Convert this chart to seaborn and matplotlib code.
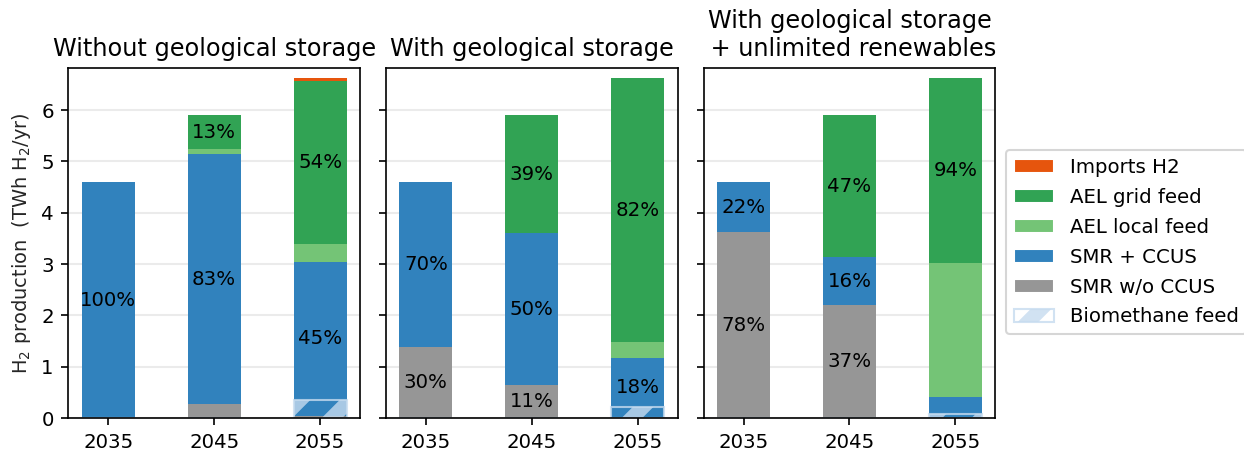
import numpy as np
import matplotlib.pyplot as plt
from matplotlib.patches import Patch
import seaborn as sns

years = ['2035', '2045', '2055']
series = ['SMR w/o CCUS', 'SMR + CCUS', 'AEL local feed', 'AEL grid feed', 'Imports H2']
titles = ['Without geological storage', 'With geological storage',
          'With geological storage\n + unlimited renewables']

# TWh H2/yr per year, one row per year, columns follow `series`
no_storage = [[0.00, 4.60, 0.00, 0.00, 0.00],
              [0.27, 4.88, 0.09, 0.66, 0.00],
              [0.05, 3.00, 0.35, 3.16, 0.06]]
with_storage = [[1.38, 3.22, 0.00, 0.00, 0.00],
                [0.64, 2.96, 0.00, 2.30, 0.00],
                [0.00, 1.18, 0.30, 5.14, 0.00]]
unlimited_ren = [[3.62, 0.98, 0.00, 0.00, 0.00],
                 [2.20, 0.94, 0.00, 2.76, 0.00],
                 [0.00, 0.41, 2.62, 3.59, 0.00]]

# biomethane-fed part of SMR production
bio_no_storage = [0.00, 0.00, 0.35]
bio_with_storage = [0.00, 0.00, 0.21]
bio_unlimited_ren = [0.00, 0.00, 0.08]

labels_no_storage = [['', '100%', '', '', ''],
                     ['', '83%', '', '13%', ''],
                     ['', '45%', '', '54%', '']]
labels_with_storage = [['30%', '70%', '', '', ''],
                       ['11%', '50%', '', '39%', ''],
                       ['', '18%', '', '82%', '']]
labels_unlimited_ren = [['78%', '22%', '', '', ''],
                        ['37%', '16%', '', '47%', ''],
                        ['', '', '', '94%', '']]

sns.set_style('ticks')
plt.rcParams['font.family'] = ['DejaVu Sans']
plt.rcParams['hatch.linewidth'] = 7
plt.rcParams['text.color'] = 'black'
plt.rcParams['axes.edgecolor'] = 'black'
plt.rcParams['xtick.color'] = 'black'
plt.rcParams['ytick.color'] = 'black'

pal = sns.color_palette('tab20c')
colors = {'SMR w/o CCUS': pal[17], 'SMR + CCUS': pal[0], 'AEL local feed': pal[9],
          'AEL grid feed': pal[8], 'Imports H2': pal[4]}
bio_color = pal[3]


def plot_panel(ax, values, bio, labels, title):
    vals = np.array(values)
    tops = np.cumsum(vals, axis=1)
    # draw cumulative totals from the top layer down so each layer covers the one above
    for j in range(len(series) - 1, -1, -1):
        sns.barplot(x=years, y=tops[:, j], color=colors[series[j]], width=0.5,
                    saturation=1, linewidth=0, ax=ax)
    ax.bar(np.arange(len(years)), bio, width=0.5, facecolor='none',
           edgecolor=bio_color, hatch='/', linewidth=1, alpha=0.8)
    for i in range(len(years)):
        for j in range(len(series)):
            if labels[i][j]:
                mid = tops[i, j] - vals[i, j] / 2
                ax.text(i, mid, labels[i][j], ha='center', va='center', fontsize=9.5)
    ax.set_title(title, fontsize=11.5)
    ax.set_xlim(-0.375, 2.375)
    ax.grid(axis='y', color='#ebebeb', linewidth=1)
    ax.set_axisbelow(True)
    ax.set_xlabel('')


fig, axes = plt.subplots(1, 3, figsize=(1244 / 150, 451 / 150), dpi=150, sharey=True)
plot_panel(axes[0], no_storage, bio_no_storage, labels_no_storage, titles[0])
plot_panel(axes[1], with_storage, bio_with_storage, labels_with_storage, titles[1])
plot_panel(axes[2], unlimited_ren, bio_unlimited_ren, labels_unlimited_ren, titles[2])

axes[0].set_ylim(0, 6.82)
axes[0].set_ylabel('H$_2$ production  (TWh H$_2$/yr)', fontsize=9.3)
for ax in axes:
    ax.tick_params(labelsize=9.5)

handles = [Patch(facecolor=colors[s], label=s) for s in series[::-1]]
handles.append(Patch(facecolor='none', edgecolor=bio_color, hatch='/', linewidth=1,
                     alpha=0.8, label='Biomethane feed'))
fig.subplots_adjust(left=0.055, right=0.80, bottom=0.073, top=0.849, wspace=0.09)
fig.legend(handles=handles, loc='center left', bbox_to_anchor=(0.801, 0.463),
           fontsize=9.5, labelspacing=0.55, frameon=True)

plt.savefig('out.png', dpi=150)
